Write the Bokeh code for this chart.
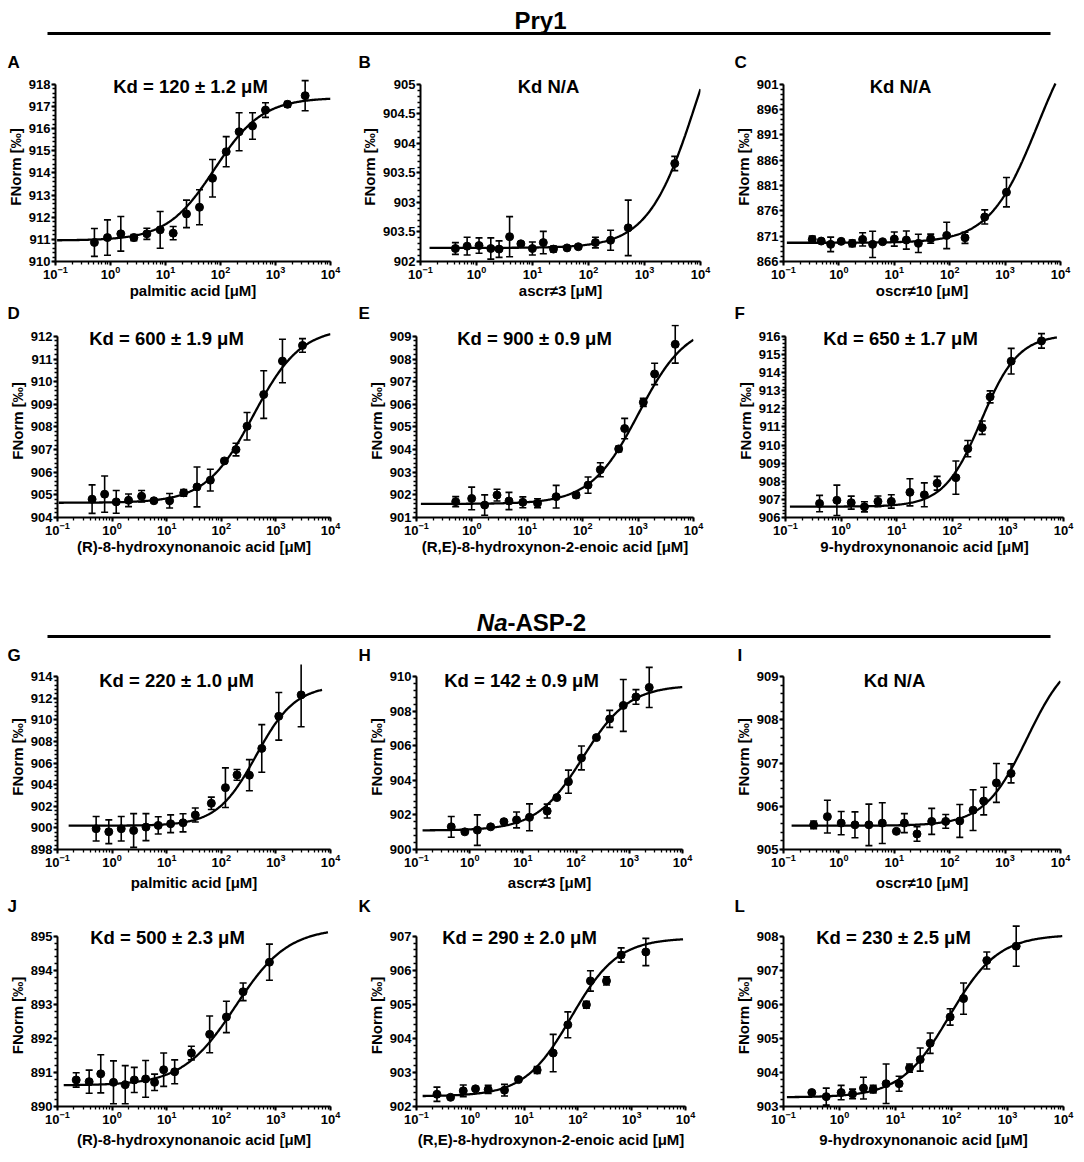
import numpy as np
from bokeh.plotting import figure
from bokeh.models import (ColumnDataSource, Whisker, TeeHead, Label, FixedTicker,
                          LogTicker, Range1d)
from bokeh.layouts import column, row
from bokeh.embed import file_html
from bokeh.resources import INLINE

FONT = "Liberation Sans"

# ---------------- data ----------------
A_conc = [0.51, 0.88, 1.54, 2.66, 4.58, 8.0, 13.8, 24.1, 41.5, 71.6, 127, 218, 382, 658, 1652, 3460]
A_fnorm = [910.86, 911.08, 911.25, 911.08, 911.25, 911.43, 911.28, 912.15, 912.45, 913.76, 914.96, 915.86, 916.12, 916.84, 917.10, 917.49]
A_err = [0.63, 0.80, 0.78, 0.14, 0.25, 0.83, 0.30, 0.62, 0.79, 0.85, 0.68, 0.86, 0.60, 0.33, 0.12, 0.68]
A_fit = [910.95, 917.4, 78, 1.0, 0.107, 1e4]   # bottom, top, EC50, hill, x from, x to

B_conc = [0.42, 0.68, 1.11, 1.8, 2.53, 3.9, 6.2, 9.95, 15.6, 23.7, 41.4, 65.7, 133, 248, 512, 3470]
B_fnorm = [902.22, 902.26, 902.27, 902.22, 902.21, 902.42, 902.30, 902.22, 902.32, 902.21, 902.23, 902.25, 902.32, 902.36, 902.57, 903.66]
B_err = [0.10, 0.15, 0.13, 0.18, 0.14, 0.34, 0.03, 0.11, 0.19, 0.05, 0.02, 0.03, 0.09, 0.17, 0.47, 0.12]
B_fit = [902.23, 907.29, 8800, 1.0, 0.145, 1e4]

C_conc = [0.33, 0.48, 0.71, 1.10, 1.74, 2.68, 4.06, 6.15, 10.0, 16.5, 27.2, 45.4, 88.3, 189, 429, 1058]
C_fnorm = [870.37, 870.04, 869.39, 869.98, 869.59, 870.37, 869.39, 869.91, 870.43, 870.24, 869.59, 870.50, 871.15, 870.69, 874.80, 879.69]
C_err = [0.65, 0.3, 1.43, 0.3, 0.65, 1.3, 2.6, 0.3, 1.4, 1.8, 1.8, 0.9, 2.6, 1.1, 1.4, 2.9]
C_fit = [869.7, 916.2, 3865, 1.0, 0.115, 8100]

D_conc = [0.43, 0.73, 1.19, 2.0, 3.47, 5.83, 11.3, 20.5, 35.9, 63, 114, 186, 296, 598, 1318, 3070]
D_fnorm = [904.81, 905.03, 904.69, 904.76, 904.94, 904.74, 904.74, 905.09, 905.35, 905.65, 906.50, 907.00, 908.03, 909.43, 910.91, 911.60]
D_err = [0.63, 0.8, 0.5, 0.28, 0.25, 0.05, 0.32, 0.15, 0.88, 0.48, 0.08, 0.28, 0.61, 1.05, 0.96, 0.3]
D_fit = [904.65, 912.39, 388, 1.0, 0.105, 1e4]

E_conc = [0.51, 0.99, 1.70, 2.84, 4.67, 8.3, 15.3, 33.2, 76, 125, 208, 446, 572, 1242, 1987, 4680]
E_fnorm = [901.70, 901.84, 901.55, 901.99, 901.73, 901.67, 901.63, 901.92, 901.99, 902.43, 903.11, 904.03, 904.93, 906.09, 907.34, 908.65]
E_err = [0.22, 0.5, 0.45, 0.26, 0.38, 0.24, 0.2, 0.5, 0.12, 0.36, 0.31, 0.12, 0.45, 0.18, 0.47, 0.83]
E_fit = [901.6, 909.59, 1021, 1.0, 0.12, 1e4]

F_conc = [0.41, 0.84, 1.52, 2.63, 4.6, 8.0, 17.3, 31.4, 53.4, 116, 190, 345, 479, 1146, 4020]
F_fnorm = [906.77, 906.95, 906.82, 906.59, 906.89, 906.89, 907.39, 907.25, 907.89, 908.20, 909.80, 910.96, 912.66, 914.63, 915.75]
F_err = [0.45, 0.84, 0.36, 0.28, 0.3, 0.37, 0.75, 0.66, 0.38, 0.92, 0.45, 0.37, 0.33, 0.71, 0.4]
F_fit = [906.6, 916.1, 331, 1.3, 0.12, 7600]

G_conc = [0.51, 0.87, 1.47, 2.48, 4.17, 7.0, 11.8, 19.9, 33.4, 65.7, 119, 194, 327, 551, 1129, 2900]
G_fnorm = [899.92, 899.64, 899.92, 899.76, 900.07, 900.23, 900.38, 900.47, 901.19, 902.27, 903.72, 904.90, 904.87, 907.35, 910.32, 912.30]
G_err = [1.13, 1.1, 1.13, 1.56, 1.25, 0.8, 0.82, 0.84, 0.65, 0.57, 1.83, 0.5, 1.44, 2.2, 2.2, 2.95]
G_fit = [900.2, 913.2, 436, 1.21, 0.16, 7000]

H_conc = [0.45, 0.81, 1.39, 2.48, 4.4, 7.6, 13.3, 28.6, 43.4, 71.8, 126, 241, 428, 772, 1334, 2370]
H_fnorm = [901.31, 901.02, 901.12, 901.31, 901.61, 901.71, 901.86, 902.22, 903.00, 903.92, 905.29, 906.47, 907.55, 908.33, 908.82, 909.37]
H_err = [0.6, 0.05, 0.88, 0.05, 0.05, 0.46, 0.78, 0.4, 0.05, 0.67, 0.69, 0.06, 0.49, 1.5, 0.42, 1.16]
H_fit = [901.1, 909.5, 133, 1.0, 0.13, 1e4]

I_conc = [0.35, 0.62, 1.10, 1.95, 3.48, 6.07, 10.9, 15.2, 25.7, 47.3, 84.8, 152, 264, 411, 697, 1282]
I_fnorm = [905.57, 905.76, 905.61, 905.57, 905.57, 905.61, 905.42, 905.61, 905.36, 905.65, 905.65, 905.66, 905.91, 906.12, 906.54, 906.76]
I_err = [0.09, 0.38, 0.27, 0.3, 0.48, 0.47, 0.0, 0.22, 0.17, 0.3, 0.16, 0.38, 0.47, 0.32, 0.45, 0.22]
I_fit = [905.55, 909.6, 2500, 1.12, 0.14, 1e4]

J_conc = [0.22, 0.38, 0.62, 1.06, 1.74, 2.55, 4.11, 6.0, 8.8, 14.0, 28.3, 61.2, 124, 251, 761]
J_fnorm = [890.78, 890.73, 890.96, 890.71, 890.64, 890.78, 890.81, 890.71, 891.08, 891.02, 891.57, 892.12, 892.63, 893.37, 894.24]
J_err = [0.21, 0.34, 0.56, 0.63, 0.56, 0.37, 0.54, 0.24, 0.49, 0.35, 0.2, 0.54, 0.46, 0.26, 0.53]
J_fit = [890.62, 895.25, 180, 0.9, 0.13, 9000]

K_conc = [0.24, 0.43, 0.74, 1.25, 2.15, 4.32, 7.87, 17.5, 34.7, 65, 144, 171, 340, 637, 1832]
K_fnorm = [902.36, 902.27, 902.46, 902.52, 902.50, 902.48, 902.79, 903.07, 903.57, 904.40, 904.99, 905.69, 905.69, 906.45, 906.54]
K_err = [0.21, 0.05, 0.17, 0.05, 0.12, 0.17, 0.04, 0.1, 0.55, 0.38, 0.1, 0.3, 0.12, 0.21, 0.4]
K_fit = [902.3, 906.95, 75, 1.0, 0.13, 9000]

L_conc = [0.32, 0.58, 1.07, 1.71, 2.68, 4.0, 6.8, 11.6, 17.8, 27.6, 41.6, 94.6, 164, 427, 1430]
L_fnorm = [903.41, 903.29, 903.41, 903.37, 903.54, 903.51, 903.67, 903.67, 904.13, 904.38, 904.86, 905.63, 906.17, 907.29, 907.71]
L_err = [0.03, 0.25, 0.21, 0.14, 0.32, 0.11, 0.58, 0.22, 0.12, 0.34, 0.3, 0.24, 0.46, 0.25, 0.59]
L_fit = [903.27, 908.05, 92, 1.0, 0.115, 9500]

# titles / labels
KD_TEXT = {
    "A": "Kd = 120 ± 1.2 μM", "B": "Kd N/A", "C": "Kd N/A",
    "D": "Kd = 600 ± 1.9 μM", "E": "Kd = 900 ± 0.9 μM", "F": "Kd = 650 ± 1.7 μM",
    "G": "Kd = 220 ± 1.0 μM", "H": "Kd = 142 ± 0.9 μM", "I": "Kd N/A",
    "J": "Kd = 500 ± 2.3 μM", "K": "Kd = 290 ± 2.0 μM", "L": "Kd = 230 ± 2.5 μM",
}
LIGANDS = ["palmitic acid [μM]", "ascr≠3 [μM]", "oscr≠10 [μM]",
           "(R)-8-hydroxynonanoic acid [μM]", "(R,E)-8-hydroxynon-2-enoic acid [μM]",
           "9-hydroxynonanoic acid [μM]"]
Y_LABEL = "FNorm [‰]"

# y-axis ticks (major values, labels as printed)
Y_TICKS = {
    "A": (list(range(910, 919)), None),
    "B": ([902, 902.5, 903, 903.5, 904, 904.5, 905],
          ["902", "903.5", "903", "903.5", "904", "904.5", "905"]),
    "C": (list(range(866, 902, 5)), None),
    "D": (list(range(904, 913)), None),
    "E": (list(range(901, 910)), None),
    "F": (list(range(906, 917)), None),
    "G": (list(range(898, 915, 2)), None),
    "H": (list(range(900, 911, 2)), None),
    "I": (list(range(905, 910)), None),
    "J": (list(range(890, 896)), None),
    "K": (list(range(902, 908)), None),
    "L": (list(range(903, 909)), None),
}

DATA = {
    "A": (A_conc, A_fnorm, A_err, A_fit), "B": (B_conc, B_fnorm, B_err, B_fit),
    "C": (C_conc, C_fnorm, C_err, C_fit), "D": (D_conc, D_fnorm, D_err, D_fit),
    "E": (E_conc, E_fnorm, E_err, E_fit), "F": (F_conc, F_fnorm, F_err, F_fit),
    "G": (G_conc, G_fnorm, G_err, G_fit), "H": (H_conc, H_fnorm, H_err, H_fit),
    "I": (I_conc, I_fnorm, I_err, I_fit), "J": (J_conc, J_fnorm, J_err, J_fit),
    "K": (K_conc, K_fnorm, K_err, K_fit), "L": (L_conc, L_fnorm, L_err, L_fit),
}

# ---------------- layout (page pixels) ----------------
# panel: frame left, frame width, letter left, Kd-title centre (rel. to frame left)
PANEL_BOX = {
    "A": (55, 275, 7, 135), "B": (417, 283, 358, 128), "C": (783, 277, 734, 117),
    "D": (57, 273, 7, 109), "E": (412, 281, 358, 118), "F": (785, 278, 734, 115),
    "G": (57, 273, 7, 119), "H": (415, 267, 358, 105), "I": (783, 277, 737, 111),
    "J": (57, 273, 7, 110), "K": (416, 269, 358, 103), "L": (783, 280, 734, 110),
}
ROWS = [
    dict(keys="ABC", widths=[357, 363, 356], top=36, frame_h=179, bottom=38, letter_dy=22, xlab_standoff=0),
    dict(keys="DEF", widths=[364, 356, 356], top=35, frame_h=183, bottom=38, letter_dy=23, xlab_standoff=0),
    dict(keys="GHI", widths=[364, 356, 356], top=36, frame_h=173, bottom=46, letter_dy=21, xlab_standoff=4),
    dict(keys="JKL", widths=[364, 356, 356], top=41, frame_h=173, bottom=41, letter_dy=30, xlab_standoff=4),
]
TOTAL_W = 1076
EXTRA = 12   # room above the top tick for the Kd text


def make_panel(key, ligand, col_start, fig_w, rowcfg):
    conc, fnorm, err, fit = DATA[key]
    fl, fw, letter_x, title_cx = PANEL_BOX[key]
    left = fl - col_start
    right = fig_w - left - fw
    fh = rowcfg["frame_h"]
    height = fh + EXTRA + rowcfg["bottom"]
    ticks, tlabels = Y_TICKS[key]
    step = ticks[1] - ticks[0]
    y_hi = ticks[-1] + EXTRA * (ticks[-1] - ticks[0]) / fh
    p = figure(width=fig_w, height=height, x_axis_type="log",
               x_range=Range1d(0.1, 1e4), y_range=Range1d(ticks[0], y_hi),
               output_backend="svg", toolbar_location=None,
               min_border_left=left, min_border_right=right,
               min_border_top=0, min_border_bottom=rowcfg["bottom"])
    p.outline_line_color = None
    p.grid.visible = False
    p.background_fill_color = "white"
    p.border_fill_color = "white"

    # fitted binding curve
    bottom, top, ec50, hill, x0, x1 = fit
    xc = np.logspace(np.log10(x0), np.log10(x1), 300)
    yc = bottom + (top - bottom) / (1.0 + (ec50 / xc) ** hill)
    p.line(xc, yc, line_color="black", line_width=2.3)

    src = ColumnDataSource(dict(x=conc, y=fnorm,
                                upper=[v + e for v, e in zip(fnorm, err)],
                                lower=[v - e for v, e in zip(fnorm, err)]))
    p.add_layout(Whisker(source=src, base="x", upper="upper", lower="lower",
                         line_color="black", line_width=1.6,
                         upper_head=TeeHead(size=7, line_width=1.6, line_color="black"),
                         lower_head=TeeHead(size=7, line_width=1.6, line_color="black")))
    p.scatter("x", "y", source=src, size=8, color="black")

    # axes
    p.xaxis.ticker = LogTicker(num_minor_ticks=10, desired_num_ticks=6)
    minors = list(np.arange(ticks[0], ticks[-1] + 1e-9, step / 5.0))
    p.yaxis.ticker = FixedTicker(ticks=ticks, minor_ticks=minors)
    p.yaxis.bounds = (ticks[0], ticks[-1])
    if tlabels is not None:
        p.yaxis.major_label_overrides = {float(t): l for t, l in zip(ticks, tlabels)}
    for ax in (p.xaxis[0], p.yaxis[0]):
        ax.axis_line_width = 2
        ax.axis_line_color = "black"
        ax.major_tick_line_width = 2
        ax.minor_tick_line_width = 1.3
        ax.major_tick_out = 4
        ax.major_tick_in = 0
        ax.minor_tick_out = 3
        ax.minor_tick_in = 0
        ax.major_label_text_font = FONT
        ax.major_label_text_font_style = "bold"
        ax.major_label_text_color = "black"
        ax.axis_label_text_font = FONT
        ax.axis_label_text_font_style = "bold"
        ax.axis_label_text_font_size = "15px"
        ax.axis_label_text_color = "black"
    p.xaxis.major_label_text_font_size = "13px"
    p.yaxis.major_label_text_font_size = "13px"
    p.xaxis.major_label_standoff = 0
    p.yaxis.major_label_standoff = 1
    p.xaxis.axis_label = ligand
    p.yaxis.axis_label = Y_LABEL
    p.xaxis.axis_label_standoff = rowcfg["xlab_standoff"]
    p.yaxis.axis_label_standoff = 2

    p.add_layout(Label(x=title_cx, y=fh - 4, x_units="screen", y_units="screen",
                       text=KD_TEXT[key], text_font=FONT, text_font_style="bold",
                       text_font_size="18.5px", text_align="center", text_baseline="middle",
                       text_color="black"))
    return p


def blank_fig(height):
    p = figure(width=TOTAL_W, height=height, x_range=Range1d(0, TOTAL_W), y_range=Range1d(0, height),
               output_backend="svg", toolbar_location=None,
               x_axis_location=None, y_axis_location=None, min_border=0)
    p.outline_line_color = None
    p.grid.visible = False
    return p


def make_header(height, text_y, line_y, parts):
    p = blank_fig(height)
    p.segment(x0=[47], y0=[line_y], x1=[1050], y1=[line_y], line_color="black", line_width=2.8)
    for x, txt, style, align in parts:
        p.add_layout(Label(x=x, y=text_y, text=txt, text_font=FONT, text_font_style=style,
                           text_font_size="24px", text_align=align, text_baseline="middle",
                           text_color="black"))
    return p


def make_strip(rowcfg):
    s = rowcfg["top"] - EXTRA
    p = blank_fig(s)
    for key in rowcfg["keys"]:
        p.add_layout(Label(x=PANEL_BOX[key][2], y=rowcfg["letter_dy"] - EXTRA, text=key,
                           text_font=FONT, text_font_style="bold", text_font_size="17px",
                           text_align="left", text_baseline="middle", text_color="black"))
    return p


def make_row(rowcfg, ligands):
    figs = []
    col_start = 0
    for key, w, lig in zip(rowcfg["keys"], rowcfg["widths"], ligands):
        figs.append(make_panel(key, lig, col_start, w, rowcfg))
        col_start += w
    return column(make_strip(rowcfg), row(*figs, spacing=0), spacing=0)


head1 = make_header(48, 28, 15, [(540, "Pry1", "bold", "center")])
head2 = make_header(83, 18, 4, [(507, "Na", "bold italic", "right"), (507, "-ASP-2", "bold", "left")])

layout = column(
    head1,
    make_row(ROWS[0], LIGANDS[0:3]),
    make_row(ROWS[1], LIGANDS[3:6]),
    head2,
    make_row(ROWS[2], LIGANDS[0:3]),
    make_row(ROWS[3], LIGANDS[3:6]),
    spacing=0,
)

open("out.html", "w").write(file_html(layout, INLINE))
